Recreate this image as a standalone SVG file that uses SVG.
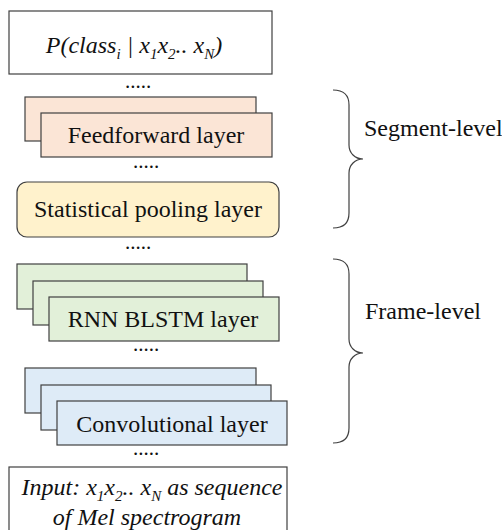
<svg xmlns="http://www.w3.org/2000/svg" width="502" height="530" viewBox="0 0 502 530">
<style>
text{font-family:'Liberation Serif','Tinos','Times New Roman','DejaVu Serif',serif}
.box{stroke:#404040;stroke-width:1.2}
.t{font-size:24px;fill:#111;text-anchor:middle}
.it{font-style:italic}
.dots{font-size:21px;fill:#111;text-anchor:middle}
.brace{fill:none;stroke:#404040;stroke-width:1.2}
.lbl{font-size:24px;fill:#111}
.ff{fill:#FBE5D6}.sp{fill:#FFF2CC}.rnn{fill:#E2F0D9}.cv{fill:#DEEBF7}.wh{fill:#FFFFFF}
</style>
<rect width="502" height="530" fill="#FFFFFF"/>
<g id="output">
<rect class="box wh" x="9" y="11" width="263" height="63"/>
<text class="t it" x="134" y="53" font-size="23" font-family="Liberation Serif, DejaVu Serif, serif">P(class<tspan font-size="15" dy="6">i</tspan><tspan dy="-6"> | x</tspan><tspan font-size="15" dy="6">1</tspan><tspan dy="-6">x</tspan><tspan font-size="15" dy="6">2</tspan><tspan dy="-6">.. x</tspan><tspan font-size="15" dy="6">N</tspan><tspan dy="-6">)</tspan></text>
</g>
<g id="feedforward">
<rect class="box ff" x="25" y="97" width="231" height="44"/>
<rect class="box ff" x="41" y="113" width="231" height="44"/>
<text class="t" x="156" y="143" font-family="Liberation Serif, DejaVu Serif, serif">Feedforward layer</text>
</g>
<g id="pooling">
<rect class="box sp" x="17" y="182" width="262" height="55" rx="10" ry="10"/>
<text class="t" x="148" y="217" font-family="Liberation Serif, DejaVu Serif, serif">Statistical pooling layer</text>
</g>
<g id="rnn">
<rect class="box rnn" x="17" y="264" width="230" height="45"/>
<rect class="box rnn" x="33" y="281" width="230" height="44"/>
<rect class="box rnn" x="49" y="297" width="230" height="44"/>
<text class="t" x="163" y="327" font-family="Liberation Serif, DejaVu Serif, serif">RNN BLSTM layer</text>
</g>
<g id="conv">
<rect class="box cv" x="25" y="368" width="231" height="45"/>
<rect class="box cv" x="41" y="385" width="230" height="45"/>
<rect class="box cv" x="57" y="401" width="230" height="44"/>
<text class="t" x="172" y="432" font-family="Liberation Serif, DejaVu Serif, serif">Convolutional layer</text>
</g>
<g id="input">
<rect class="box wh" x="9" y="467" width="278" height="70"/>
<text class="t it" x="152" y="495" font-family="Liberation Serif, DejaVu Serif, serif">Input: x<tspan font-size="15" dy="6">1</tspan><tspan dy="-6">x</tspan><tspan font-size="15" dy="6">2</tspan><tspan dy="-6">.. x</tspan><tspan font-size="15" dy="6">N</tspan><tspan dy="-6">  as sequence</tspan></text>
<text class="t it" x="147" y="525" font-family="Liberation Serif, DejaVu Serif, serif">of Mel spectrogram</text>
</g>
<g id="connectors">
<text class="dots" x="138" y="88" font-family="Liberation Serif, DejaVu Serif, serif">.....</text>
<text class="dots" x="146" y="168" font-family="Liberation Serif, DejaVu Serif, serif">.....</text>
<text class="dots" x="138" y="249" font-family="Liberation Serif, DejaVu Serif, serif">.....</text>
<text class="dots" x="146" y="351" font-family="Liberation Serif, DejaVu Serif, serif">.....</text>
<text class="dots" x="146" y="455" font-family="Liberation Serif, DejaVu Serif, serif">.....</text>
</g>
<g id="segment-level">
<path class="brace" d="M333,90 C343,90 349,95 349,105 L349,145 C349,153 355,159 363,159 C355,159 349,165 349,173 L349,213 C349,223 343,228 333,228"/>
<text class="lbl" x="364" y="136" font-size="22.5" font-family="Liberation Serif, DejaVu Serif, serif">Segment-level</text>
</g>
<g id="frame-level">
<path class="brace" d="M333,259 C343,259 349,264 349,274 L349,339 C349,347 355,353 363,353 C355,353 349,359 349,367 L349,428 C349,438 343,443 333,443"/>
<text class="lbl" x="365" y="319" font-family="Liberation Serif, DejaVu Serif, serif">Frame-level</text>
</g>
</svg>
